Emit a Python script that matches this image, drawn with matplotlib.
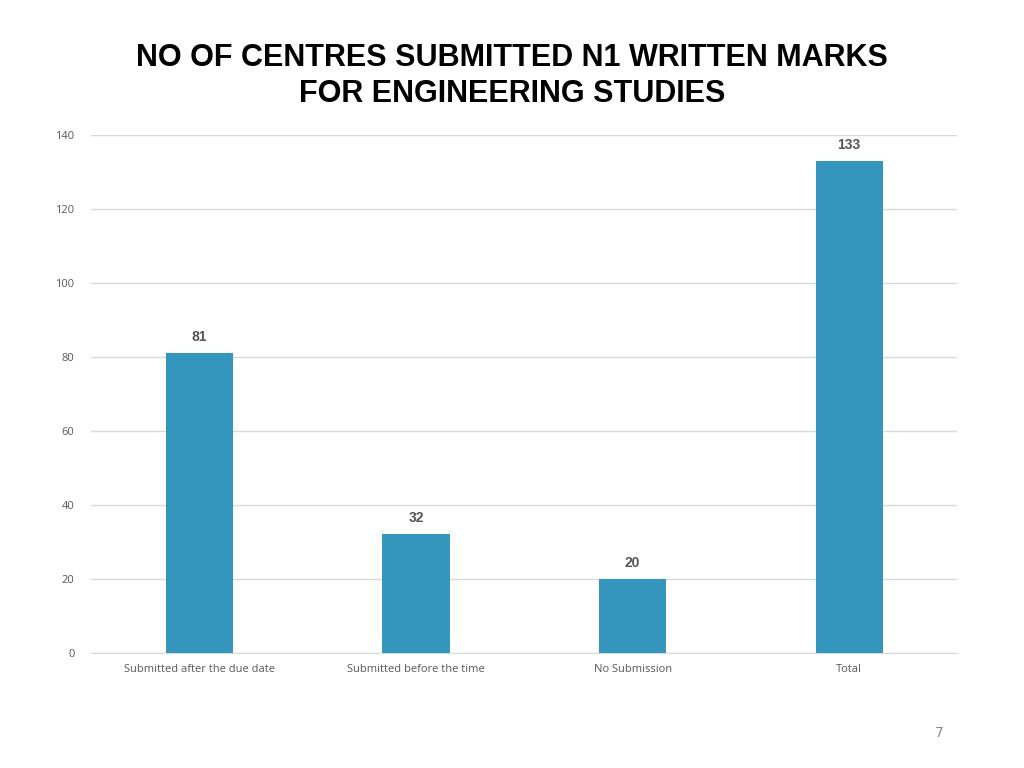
import matplotlib

matplotlib.use("Agg")
import matplotlib.pyplot as plt

categories = ["Submitted after the due date", "Submitted before the time",
              "No Submission", "Total"]
values = [81, 32, 20, 133]
yticks = [0, 20, 40, 60, 80, 100, 120, 140]

fig = plt.figure(figsize=(10.24, 7.68), dpi=100)
ax = fig.add_axes([0.089, 0.150, 0.846, 0.674])

x = range(len(categories))
bars = ax.bar(x, values, width=0.31, color="#3596BD", zorder=3)
for b, v in zip(bars, values):
    ax.text(b.get_x() + b.get_width() / 2, v + 2.5, str(v), ha="center",
            va="bottom", fontsize=10, fontweight="bold", color="#555555",
            family="Liberation Sans")

ax.set_xlim(-0.5, len(categories) - 0.5)
ax.set_ylim(0, 140)
ax.set_yticks(yticks)
ax.set_xticks(list(x))
ax.set_xticklabels(categories)
ax.tick_params(length=0, labelsize=8, colors="#595959", pad=8)
for lbl in ax.get_xticklabels() + ax.get_yticklabels():
    lbl.set_family("Open Sans")
ax.tick_params(axis="y", pad=12)
ax.grid(axis="y", color="#D9D9D9", lw=1, zorder=0)
for s in ["top", "right", "left"]:
    ax.spines[s].set_visible(False)
ax.spines["bottom"].set_color("#D9D9D9")

fig.text(0.5, 0.925, "NO OF CENTRES SUBMITTED N1 WRITTEN MARKS",
         ha="center", va="center", fontsize=22, fontweight="bold",
         family="Liberation Sans")
fig.text(0.5, 0.878, "FOR ENGINEERING STUDIES",
         ha="center", va="center", fontsize=22, fontweight="bold",
         family="Liberation Sans")
fig.text(0.917, 0.045, "7", ha="center", va="center", fontsize=10,
         color="#8C8C8C")

fig.savefig("out.png", dpi=100)
